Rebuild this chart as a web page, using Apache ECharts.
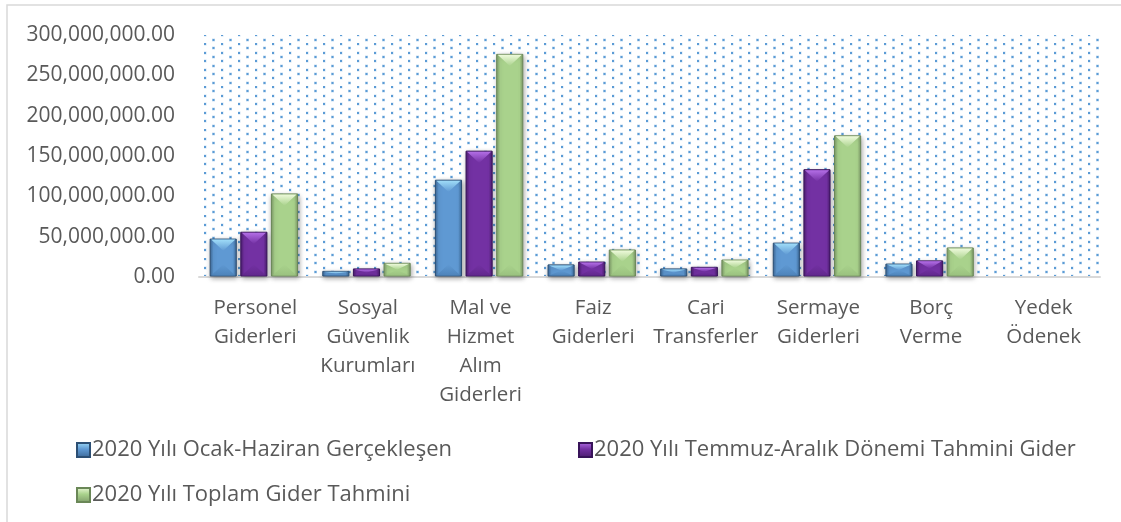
<!DOCTYPE html>
<html>
<head>
<meta charset="utf-8">
<script src="https://cdn.jsdelivr.net/npm/echarts@6/dist/echarts.min.js"></script>
<style>
html,body{margin:0;padding:0;background:#fff;}
#c{width:1121px;height:522px;}
</style>
</head>
<body>
<div id="c"></div>
<script>
const categories = ["Personel\nGiderleri","Sosyal\nGüvenlik\nKurumları","Mal ve\nHizmet\nAlım\nGiderleri","Faiz\nGiderleri","Cari\nTransferler","Sermaye\nGiderleri","Borç\nVerme","Yedek\nÖdenek"];
const seriesNames = ["2020 Yılı Ocak-Haziran Gerçekleşen","2020 Yılı Temmuz-Aralık Dönemi Tahmini Gider","2020 Yılı Toplam Gider Tahmini"];
const ocakHaziran = [47000000, 7000000, 120000000, 15000000, 10000000, 42000000, 16000000, 0];
const temmuzAralik = [55500000, 10000000, 156000000, 18500000, 12000000, 133000000, 20000000, 0];
const toplam = [103000000, 17000000, 276000000, 33500000, 21000000, 175000000, 36000000, 0];
const yTicks = [0, 50000000, 100000000, 150000000, 200000000, 250000000, 300000000];

// dotted background pattern
const tile = document.createElement('canvas');
tile.width = 17; tile.height = 43;
const tc = tile.getContext('2d');
for (let k = 0; k < 5; k++) {
  const y1 = Math.round(k * 8.6), y2 = Math.round(k * 8.6 + 4.3);
  tc.fillStyle = 'rgba(91,155,213,0.3)';
  tc.fillRect(-0.5, y1 - 0.5, 3, 3);
  tc.fillRect(8, y2 - 0.5, 3, 3);
  tc.fillStyle = '#5b9bd5';
  tc.fillRect(0, y1, 2, 2);
  tc.fillRect(8.5, y2, 2, 2);
}

const palettes = [
  {edge: '#3b6796', mid: '#5f99d3', light: '#9fdcf8', dark: '#4a7fb5', stroke: '#2c4f74'},
  {edge: '#4a1c6d', mid: '#7331a3', light: '#b36ee6', dark: '#5f2689', stroke: '#38145a'},
  {edge: '#7e9b69', mid: '#a9d28c', light: '#eefadb', dark: '#98bf7d', stroke: '#6a8757'}
];
const dataArr = [ocakHaziran, temmuzAralik, toplam];
const LG = echarts.graphic.LinearGradient;

function makeRender(si) {
  const p = palettes[si];
  return function (params, api) {
    const v = api.value(1);
    if (!v) return null;
    const band = api.size([1, 0])[0];
    const w = band * 0.232;
    const base = api.coord([api.value(0), 0]);
    const top = api.coord([api.value(0), v]);
    const xc = base[0] + (si - 1) * band * 0.272 - band * 0.013;
    const x0 = xc - w / 2, x1 = xc + w / 2;
    const y0 = top[1], yb = base[1] - 1;
    const h = yb - y0;
    const t = Math.min(w * 0.45, h / 2);
    return {
      type: 'group',
      children: [
        {type: 'rect', shape: {x: x0, y: y0, width: w, height: h},
          style: {fill: new LG(0, 0, 1, 0, [{offset: 0, color: p.edge}, {offset: 0.14, color: p.mid}, {offset: 0.86, color: p.mid}, {offset: 1, color: p.edge}]),
            stroke: p.stroke, lineWidth: 1, shadowBlur: 5, shadowColor: 'rgba(0,0,0,0.35)', shadowOffsetY: 2, shadowOffsetX: 1}},
        {type: 'polygon', shape: {points: [[x0 + 1, yb - 0.5], [x1 - 1, yb - 0.5], [xc, yb - t]]},
          style: {fill: new LG(0, 1, 0, 0, [{offset: 0, color: p.dark}, {offset: 1, color: p.mid}]), opacity: 0.8}},
        {type: 'polygon', shape: {points: [[x0 + 1, y0 + 0.5], [x1 - 1, y0 + 0.5], [xc, y0 + t]]},
          style: {fill: new LG(0, 0, 0, 1, [{offset: 0, color: p.light}, {offset: 1, color: p.mid}])}}
      ]
    };
  };
}

const chart = echarts.init(document.getElementById('c'));
chart.setOption({
  animation: false,
  textStyle: {fontFamily: 'Open Sans'},
  graphic: [{type: 'rect', shape: {x: 7, y: 5, width: 1300, height: 700}, style: {fill: 'none', stroke: '#d9d9d9', lineWidth: 1.5}, silent: true}],
  grid: {left: 199, right: 21, top: 35, bottom: 245, show: true, borderWidth: 0, backgroundColor: {image: tile, repeat: 'repeat'}},
  xAxis: {
    type: 'category', data: categories,
    axisLine: {lineStyle: {color: '#d9d9d9', width: 2}},
    axisTick: {show: false},
    axisLabel: {interval: 0, color: '#595959', fontSize: 20.5, lineHeight: 29, margin: 17, fontFamily: 'Open Sans'}
  },
  yAxis: {
    type: 'value', min: 0, max: 300000000, interval: 50000000,
    axisLine: {show: false}, axisTick: {show: false}, splitLine: {show: false},
    axisLabel: {color: '#595959', fontSize: 21, margin: 24, fontFamily: 'Open Sans',
      formatter: v => v.toLocaleString('en-US', {minimumFractionDigits: 2, maximumFractionDigits: 2})}
  },
  legend: [0, 1, 2].map(i => ({
    data: [seriesNames[i]],
    left: [76, 578, 76][i], top: [439, 439, 484][i],
    itemWidth: 13, itemHeight: 14, itemGap: 4, padding: 0, icon: 'rect',
    textStyle: {color: '#595959', fontSize: 22, fontFamily: 'Open Sans', padding: [0, 0, 0, -3]}
  })),
  series: [0, 1, 2].map(i => ({
    type: 'custom', name: seriesNames[i],
    data: dataArr[i].map((v, k) => [k, v]),
    encode: {x: 0, y: 1},
    renderItem: makeRender(i),
    itemStyle: {color: new LG(0, 0, 0, 1, [{offset: 0, color: palettes[i].light}, {offset: 0.45, color: palettes[i].mid}, {offset: 1, color: palettes[i].edge}]),
      borderColor: palettes[i].stroke, borderWidth: 0.5}
  }))
});
</script>
</body>
</html>
